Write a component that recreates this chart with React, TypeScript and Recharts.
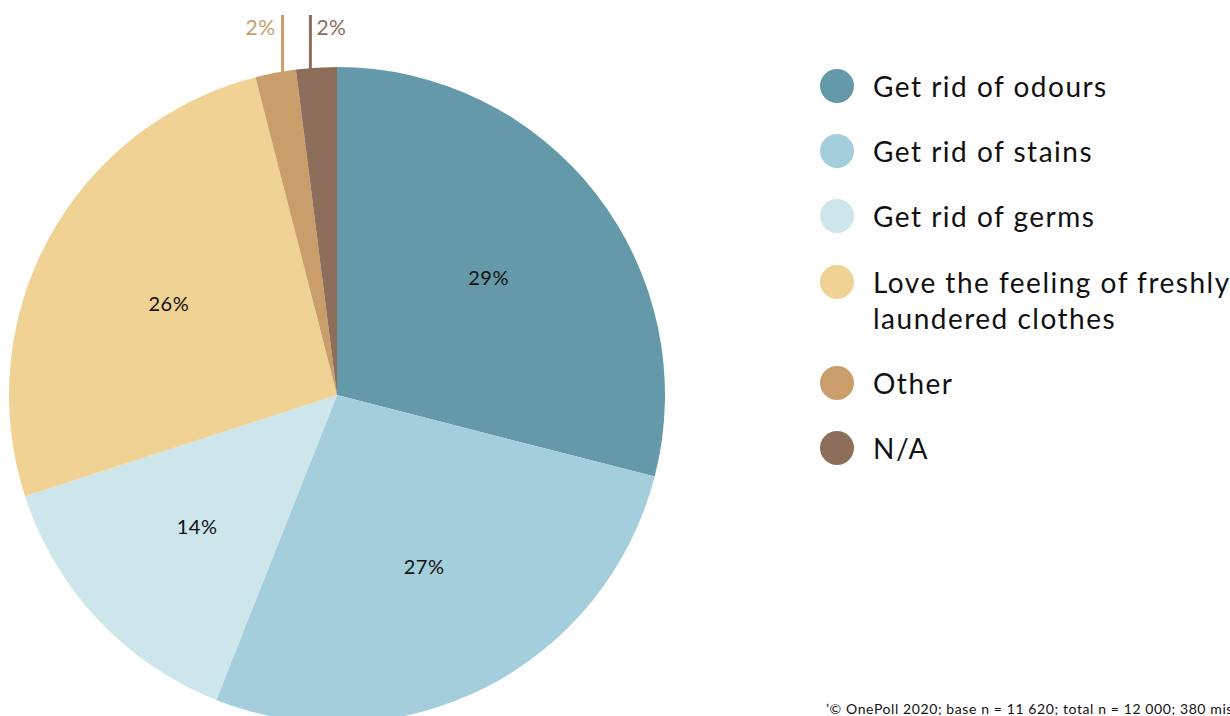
import React from 'react';
import { PieChart, Pie, Cell, Legend } from 'recharts';

const categories = [
  'Get rid of odours',
  'Get rid of stains',
  'Get rid of germs',
  'Love the feeling of freshly laundered clothes',
  'Other',
  'N/A',
];
const legendLines = [
  ['Get rid of odours'],
  ['Get rid of stains'],
  ['Get rid of germs'],
  ['Love the feeling of freshly', 'laundered clothes'],
  ['Other'],
  ['N/A'],
];
const values = [29, 27, 14, 26, 2, 2];
const colors = ['#6399A9', '#A5CEDC', '#CCE6EB', '#EFD294', '#C99E6B', '#8D6E5B'];
const footnote = '\u2019\u00A9 OnePoll 2020; base n = 11 620; total n = 12 000; 380 missing';

const data = categories.map((name, i) => ({ name, value: values[i] }));

const FONT = 'Lato, "Noto Sans", sans-serif';
const RAD = Math.PI / 180;

const renderLabel = (props: any) => {
  const { cx, cy, midAngle, outerRadius, index, value } = props;
  if (index >= 4) {
    const nudge = index === 4 ? 7 : -6;
    const ax = cx + outerRadius * Math.cos(-midAngle * RAD) + nudge;
    const ay = cy - Math.sqrt(outerRadius * outerRadius - (ax - cx) * (ax - cx));
    const col = colors[index];
    const left = index === 4;
    return (
      <g key={`lbl-${index}`}>
        <line x1={ax} y1={ay + 2} x2={ax} y2={15} stroke={col} strokeWidth={3} />
        <text
          x={left ? ax - 7 : ax + 6}
          y={26}
          fill={col}
          fontSize={21}
          fontFamily={FONT}
          letterSpacing={0.5}
          textAnchor={left ? 'end' : 'start'}
          dominantBaseline="central"
        >
          {`${value}%`}
        </text>
      </g>
    );
  }
  const r = outerRadius * 0.585;
  const x = cx + r * Math.cos(-midAngle * RAD);
  const y = cy + r * Math.sin(-midAngle * RAD);
  return (
    <text
      key={`lbl-${index}`}
      x={x}
      y={y}
      fill="#111"
      fontSize={20}
      fontFamily={FONT}
      letterSpacing={0.5}
      textAnchor="middle"
      dominantBaseline="central"
    >
      {`${value}%`}
    </text>
  );
};

const renderLegend = () => (
  <div style={{ fontFamily: FONT, fontSize: 28, color: '#111', letterSpacing: 1.5 }}>
    {legendLines.map((lines, i) => (
      <div key={i} style={{ display: 'flex', alignItems: 'flex-start', marginBottom: 29.2 }}>
        <div
          style={{
            width: 34,
            height: 34,
            borderRadius: 17,
            background: colors[i],
            marginTop: 1,
            flexShrink: 0,
          }}
        />
        <div style={{ marginLeft: 19, lineHeight: '36px', whiteSpace: 'nowrap' }}>
          {lines.map((l, j) => (
            <div key={j}>{l}</div>
          ))}
        </div>
      </div>
    ))}
  </div>
);

export default function App() {
  return (
    <div style={{ position: 'fixed', left: 0, top: 0, width: 1230, height: 716, background: '#fff', overflow: 'hidden' }}>
      <PieChart width={1230} height={716} margin={{ top: 0, right: 0, bottom: 0, left: 0 }}>
        <Pie
          data={data}
          dataKey="value"
          nameKey="name"
          cx={337}
          cy={395}
          outerRadius={328}
          startAngle={90}
          endAngle={-270}
          stroke="none"
          label={renderLabel}
          labelLine={false}
          isAnimationActive={false}
        >
          {data.map((d, i) => (
            <Cell key={d.name} fill={colors[i]} />
          ))}
        </Pie>
        <Legend
          content={renderLegend}
          wrapperStyle={{ position: 'absolute', left: 820, top: 68, width: 420 }}
        />
        <text x={826} y={708} fontSize={14} fontFamily={FONT} letterSpacing={0.6} fill="#111" dominantBaseline="central">
          {footnote}
        </text>
      </PieChart>
    </div>
  );
}
